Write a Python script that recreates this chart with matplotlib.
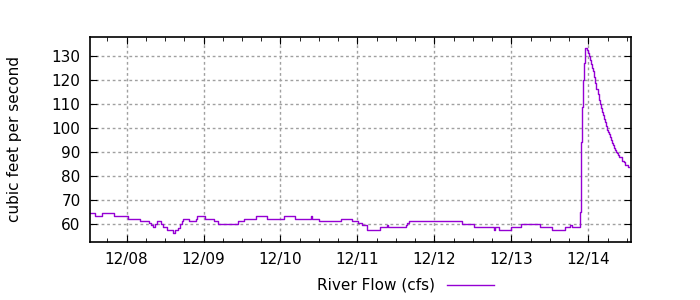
import numpy as np
import pandas as pd
import matplotlib
matplotlib.use('Agg')
import matplotlib.pyplot as plt
import matplotlib.dates as mdates
from matplotlib.lines import Line2D

# hours since 12/08 00:00 and river flow (cfs)
hours = [-11.3, -9.9, -7.5, -4.0, 0.6, 4.2, 7.0, 7.6, 8.2, 8.9, 9.6, 10.7, 11.3, 12.5,
         14.4, 15.0, 16.0, 16.7, 17.3, 17.7, 19.6, 21.6, 22.1, 24.5, 27.3, 28.6, 34.8,
         36.7, 40.4, 43.9, 49.1, 52.5, 57.4, 57.7, 60.1, 66.8, 70.4, 72.3, 73.5, 74.9,
         79.0, 81.3, 81.6, 87.1, 87.6, 88.1, 104.5, 108.3, 114.5, 114.8, 116.2, 116.5,
         120.0, 123.0, 128.9, 132.7, 136.8, 138.2, 138.8, 141.1, 141.4, 141.8, 142.1,
         142.4, 142.7, 143.0, 143.64, 143.95, 144.26, 144.57, 144.88, 145.19, 145.51,
         145.82, 146.13, 146.44, 146.86, 147.17, 147.48, 147.79, 148.10, 148.42, 148.73,
         149.04, 149.35, 149.66, 149.97, 150.29, 150.60, 150.91, 151.22, 151.53, 151.84,
         152.16, 152.47, 152.78, 153.09, 153.40, 154.34, 154.96, 155.27, 156.21, 156.52]
flow = [64.5, 63.4, 64.5, 63.4, 62.1, 61.1, 60.3, 59.5, 58.7, 60.0, 61.1, 60.0, 58.7, 57.5,
        56.3, 57.5, 58.2, 60.0, 61.1, 61.9, 61.1, 62.1, 63.4, 62.1, 61.1, 60.0, 61.1,
        62.1, 63.4, 62.1, 63.4, 62.1, 63.4, 62.1, 61.1, 62.0, 61.1, 60.3, 59.4, 57.5,
        58.6, 59.4, 58.6, 59.4, 60.3, 61.1, 60.0, 58.6, 57.3, 58.6, 57.3, 57.5,
        58.6, 60.0, 58.6, 57.5, 58.6, 59.4, 58.6, 58.6, 65.1, 94.4, 108.9,
        120.3, 127.4, 133.6, 132.5, 131.4, 130.0, 128.6, 126.9, 125.1, 123.9,
        121.4, 118.9, 116.5, 114.4, 111.7, 110.0, 108.5, 106.8, 105.3, 104.0,
        102.4, 100.8, 99.4, 98.5, 97.5, 96.1, 95.0, 93.9, 92.9, 91.9,
        90.8, 90.0, 89.4, 88.9, 87.8, 86.4, 85.8, 84.7, 83.6, 83.6]

base = pd.Timestamp('2014-12-08')
t = base + pd.to_timedelta(hours, unit='h')

fig = plt.figure(figsize=(7, 3), dpi=100)
ax = fig.add_axes([0.129, 0.194, 0.772, 0.682])
ax.plot(t, flow, drawstyle='steps-post', color='#9400D3', lw=1)

ax.set_xlim(base + pd.Timedelta(hours=-11.3), base + pd.Timedelta(hours=157.2))
ax.set_ylim(52.5, 138)
ax.set_yticks(np.arange(60, 131, 10))
ax.xaxis.set_major_locator(mdates.DayLocator())
ax.xaxis.set_minor_locator(mdates.HourLocator(byhour=[0, 6, 12, 18]))
ax.xaxis.set_major_formatter(mdates.DateFormatter('%m/%d'))
ax.tick_params(which='both', direction='in', top=True, right=True, labelsize=11, colors='black')
ax.tick_params(which='major', length=5, pad=7)
ax.tick_params(which='minor', length=3)
ax.grid(True, which='major', color='#a0a0a0', linestyle=(0, (2, 2)), lw=1)
for s in ax.spines.values():
    s.set_linewidth(1.2)
ax.set_ylabel('cubic feet per second', fontsize=11, labelpad=21)

fig.text(0.621, 0.05, 'River Flow (cfs)', ha='right', va='center', fontsize=11)
fig.add_artist(Line2D([0.639, 0.706], [0.05, 0.05], color='#9400D3', lw=1))

plt.savefig('out.png', dpi=100)
